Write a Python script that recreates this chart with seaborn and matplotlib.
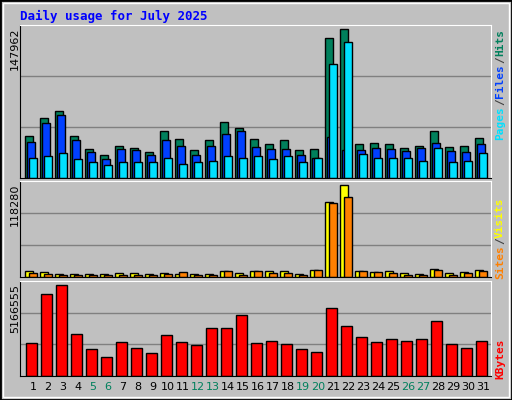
import matplotlib
matplotlib.use("Agg")
import matplotlib.pyplot as plt
import seaborn as sns
import numpy as np
from matplotlib.patches import Rectangle

days = list(range(1, 32))
hits = [40300,57900,64700,40300,27600,21800,30600,28600,24700,45200,37400,26700,36400,54000,48100,37400,32500,36400,26700,27600,135000,143700,32500,33500,32500,28600,30600,45200,29600,30600,38400]
files = [34500,53000,60800,36400,24700,17900,27600,26700,21800,36400,30600,21800,30600,42300,45200,29600,27600,27600,21800,18900,39300,26700,26700,28600,27600,25700,28600,33500,25700,24700,32500]
pages = [19800,20800,23700,17900,15900,13000,15000,15000,15000,19800,14000,15900,16900,20800,18900,20800,17900,20800,15000,19800,110600,132000,22800,18900,19800,18900,16900,28600,15900,16900,23700]
visits = [7000,5700,3300,3300,3300,3300,4500,4500,3300,4500,3300,3300,3300,7000,4500,7000,7000,7000,3300,8200,92900,113400,7000,5700,7000,4500,3300,9400,4500,5700,8200]
sites = [4500,4100,2900,2900,2900,2900,2900,2900,2900,4100,5700,2900,2900,7000,2900,7000,5300,5300,2900,8200,91700,99000,7000,5700,5300,2900,2900,8200,2900,5300,7000]
kbytes = [1813000,4478000,4967000,2302000,1487000,1051000,1867000,1541000,1269000,2248000,1867000,1704000,2629000,2629000,3336000,1813000,1922000,1758000,1487000,1323000,3716000,2737000,2139000,1867000,2030000,1922000,2030000,3009000,1758000,1541000,1922000]
weekends = [5, 6, 12, 13, 19, 20, 26, 27]
max_hits, max_visits, max_kb = 147962, 118280, 5166555

BG = "#C0C0C0"
fig = plt.figure(figsize=(5.12, 4.0), dpi=100, facecolor=BG)
fig.patches.append(Rectangle((0, 0), 1, 1, transform=fig.transFigure, fill=False, edgecolor="black", lw=2))
fig.patches.append(Rectangle((0.006, 0.008), 0.988, 0.984, transform=fig.transFigure, fill=False, edgecolor="white", lw=1))

L, W = 20/512, 471/512
ax1 = fig.add_axes([L, 222/400, W, 153/400])
ax2 = fig.add_axes([L, 123/400, W, 96/400])
ax3 = fig.add_axes([L, 24/400, W, 95/400])
d = np.array(days, dtype=float)

def bars(ax, vals, off, width, color):
    sns.barplot(x=d + off, y=vals, native_scale=True, width=width, color=color,
                edgecolor="black", linewidth=1, ax=ax, saturation=1)

bars(ax1, hits, -0.067, 0.53, "#00805C")
bars(ax1, files, 0.067, 0.53, "#0040FF")
bars(ax1, pages, 0.2, 0.53, "#00E0FF")
bars(ax2, visits, -0.067, 0.53, "#FFFF00")
bars(ax2, sites, 0.2, 0.53, "#FF8000")
bars(ax3, kbytes, 0.1, 0.73, "#FF0000")

for ax, mx in ((ax1, max_hits), (ax2, max_visits), (ax3, max_kb)):
    ax.set_facecolor(BG)
    ax.set_xlim(0.333, 31.733)
    ax.set_ylim(0, mx)
    for g in (mx/3, 2*mx/3):
        ax.axhline(g, color="#808080", lw=1, zorder=0)
    ax.set_yticks([])
    ax.set_ylabel("")
    ax.set_xlabel("")
    for s in ("left", "bottom"):
        ax.spines[s].set_color("black")
    for s in ("top", "right"):
        ax.spines[s].set_color("white")
    ax.set_xticks([])

ax3.set_xticks(d + 0.2)
ax3.set_xticklabels([str(x) for x in days], fontsize=8, family="DejaVu Sans")
ax3.tick_params(axis="x", length=0, pad=4)
for lbl, day in zip(ax3.get_xticklabels(), days):
    lbl.set_color("#00805C" if day in weekends else "black")

fig.text(20/512, 1-16/400, "Daily usage for July 2025", color="#0000FF", family="DejaVu Sans Mono",
         fontweight="bold", fontsize=9, va="center", ha="left")

for y, s in ((25, "147962"), (181, "118280"), (281, "5166555")):
    fig.text(15/512, 1-(y+3)/400, s, rotation=90, fontsize=8, ha="center", va="top", family="DejaVu Sans")

def rlab(ypx, s, c):
    fig.text(500/512, 1-ypx/400, s, rotation=90, color=c, fontsize=8, ha="center", va="center",
             family="DejaVu Sans Mono", fontweight="bold")

rlab(123, "Pages", "#00E0FF"); rlab(102, "/", "#404040"); rlab(81, "Files", "#0040FF")
rlab(60, "/", "#404040"); rlab(42, "Hits", "#00805C")
rlab(262, "Sites", "#FF8000"); rlab(241, "/", "#404040"); rlab(218, "Visits", "#FFFF00")
rlab(359, "KBytes", "#FF0000")

fig.savefig("out.png", dpi=100, facecolor=BG)
